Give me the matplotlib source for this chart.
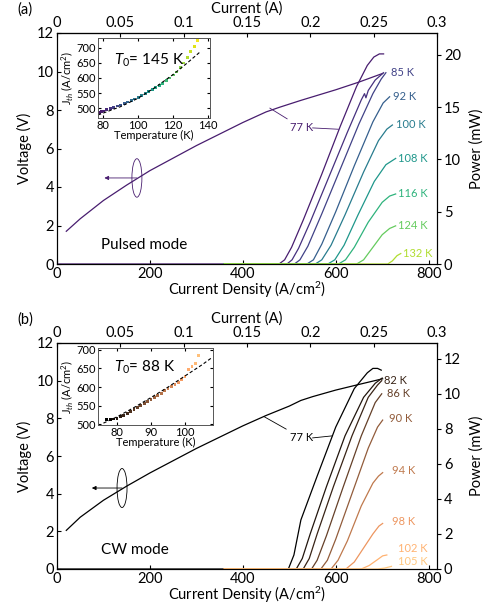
import numpy as np
import matplotlib.pyplot as plt
from matplotlib.patches import Ellipse

plt.rcParams['font.family'] = ['Lato', 'DejaVu Sans']
plt.rcParams['mathtext.fontset'] = 'custom'
plt.rcParams['mathtext.rm'] = 'Lato'
plt.rcParams['mathtext.it'] = 'Lato:italic'

J_MAX = 818          # A/cm^2 at the right edge
I_MAX = 0.3          # A at the right edge

# ---------------- (a) pulsed ----------------
pulsed_vj = [20, 50, 100, 150, 200, 250, 300, 350, 400, 450, 480, 525, 600, 650, 701]
pulsed_v = [1.7, 2.35, 3.3, 4.1, 4.85, 5.5, 6.15, 6.75, 7.35, 7.9, 8.15, 8.5, 9.05, 9.45, 9.9]

pulsed_temps = [77, 81, 85, 92, 100, 108, 116, 124, 132]
pulsed_labels = ['', '', '85 K', '92 K', '100 K', '108 K', '116 K', '124 K', '132 K']
pulsed_j = [
    [0, 478, 490, 505, 530, 570, 610, 645, 668, 682, 694, 703],
    [360, 495, 506, 520, 545, 585, 625, 655, 662, 665, 670, 685, 703],
    [360, 511, 523, 540, 570, 610, 650, 680, 698, 708],
    [360, 538, 552, 570, 600, 640, 680, 702, 716],
    [360, 556, 570, 590, 620, 660, 692, 710, 722],
    [360, 583, 598, 618, 648, 683, 708, 729],
    [360, 606, 621, 640, 670, 700, 716, 729],
    [360, 645, 660, 680, 700, 716, 729],
    [360, 712, 722, 732, 740],
]
pulsed_p = [
    [0, 0, 0.4, 1.6, 4.2, 8.6, 13.2, 17.0, 19.0, 19.8, 20.1, 20.1],
    [0, 0, 0.4, 1.5, 4.0, 8.3, 12.6, 15.7, 16.3, 15.9, 16.6, 17.6, 18.3],
    [0, 0, 0.4, 1.7, 4.8, 9.1, 13.4, 16.3, 17.7, 18.3],
    [0, 0, 0.4, 1.9, 5.0, 9.4, 13.6, 15.4, 16.0],
    [0, 0, 0.4, 1.8, 4.7, 8.8, 11.8, 12.9, 13.3],
    [0, 0, 0.4, 1.8, 4.7, 7.9, 9.5, 10.1],
    [0, 0, 0.4, 1.6, 4.0, 5.9, 6.5, 6.7],
    [0, 0, 0.4, 1.6, 2.8, 3.4, 3.65],
    [0, 0, 0.3, 0.8, 1.0],
]
pulsed_label_j = [0, 0, 718, 723, 729, 733, 733, 733, 744]
pulsed_label_p = [0, 0, 18.3, 16.0, 13.3, 10.1, 6.7, 3.65, 1.0]

pulsed_inset_t = [77, 78, 79, 80, 82, 84, 86, 88, 90, 92, 94, 96, 98, 100, 102, 104,
                  106, 108, 110, 112, 114, 116, 118, 120, 122, 124, 126, 128, 130, 132, 134, 135]
pulsed_inset_j = [482, 486, 488, 490, 494, 498, 503, 507, 510, 515, 520, 525, 530, 536, 542, 548,
                  555, 561, 568, 576, 583, 592, 600, 610, 620, 634, 650, 668, 688, 706, 724, 735]
pulsed_fit_t = [77, 90, 100, 110, 120, 128, 135]
pulsed_fit_j = [477, 505, 533, 570, 612, 650, 685]

# ---------------- (b) CW ----------------
cw_vj = [20, 50, 100, 150, 200, 250, 300, 350, 400, 450, 500, 525, 550, 600, 650, 701]
cw_v = [2.05, 2.75, 3.65, 4.4, 5.1, 5.75, 6.4, 7.0, 7.6, 8.15, 8.65, 8.95, 9.15, 9.5, 9.8, 10.1]

cw_temps = [77, 80, 82, 86, 90, 94, 98, 102, 105]
cw_labels = ['', '', '82 K', '86 K', '90 K', '94 K', '98 K', '102 K', '105 K']
cw_j = [
    [0, 498, 510, 525, 560, 600, 640, 668, 680, 690, 698],
    [360, 515, 528, 545, 580, 620, 660, 685, 700],
    [360, 530, 543, 560, 595, 635, 670, 690, 699],
    [360, 548, 560, 580, 615, 655, 685, 699],
    [360, 568, 582, 600, 635, 670, 690, 701],
    [360, 590, 605, 625, 655, 680, 692, 701],
    [360, 622, 640, 660, 680, 693, 701],
    [360, 655, 672, 688, 701, 710],
    [360, 690, 705, 720],
]
cw_p = [
    [0, 0, 0.8, 2.8, 5.3, 8.1, 10.3, 11.2, 11.45, 11.45, 11.35],
    [0, 0, 0.6, 2.0, 4.7, 7.6, 9.8, 10.6, 10.9],
    [0, 0, 0.6, 2.0, 4.7, 7.6, 9.8, 10.5, 10.75],
    [0, 0, 0.5, 1.9, 4.6, 7.6, 9.5, 10.0],
    [0, 0, 0.5, 1.7, 4.3, 6.9, 8.1, 8.5],
    [0, 0, 0.5, 1.6, 3.6, 4.9, 5.3, 5.5],
    [0, 0, 0.4, 1.2, 2.0, 2.45, 2.6],
    [0, 0, 0.2, 0.5, 0.75, 0.8],
    [0, 0, 0.05, 0.15],
]
cw_label_j = [0, 0, 704, 710, 714, 722, 722, 733, 733]
cw_label_p = [0, 0, 10.75, 10.0, 8.6, 5.6, 2.7, 1.15, 0.4]

cw_inset_t = [77, 78, 79, 80, 81, 82, 83, 84, 85, 86, 87, 88, 89, 90, 91, 92, 93, 94,
              95, 96, 97, 98, 99, 100, 101, 102, 103, 104, 105]
cw_inset_j = [512, 513, 514, 516, 520, 524, 528, 535, 540, 545, 550, 556, 562, 566, 572, 577, 582, 590,
              596, 602, 606, 612, 620, 628, 648, 655, 664, 685, 705]
cw_fit_t = [76, 80, 85, 90, 95, 100, 105, 108]
cw_fit_j = [503, 520, 545, 572, 600, 630, 660, 680]


fig = plt.figure(figsize=(4.85, 6.07), dpi=100)
W, H = 485, 607


def px_axes(left, top, right, bottom):
    return fig.add_axes([left / W, 1 - bottom / H, (right - left) / W, (bottom - top) / H])


def main_panel(ax, p_max, p_ticks, panel, mode):
    ax.set_xlim(0, J_MAX)
    ax.set_ylim(0, 12)
    ax.set_xticks([0, 200, 400, 600, 800])
    ax.set_yticks(range(0, 13, 2))
    ax.tick_params(direction='in', length=3, labelsize=10.5, pad=2)
    ax.set_xlabel('Current Density (A/cm$^2$)', fontsize=10.5, labelpad=-0.5)
    ax.set_ylabel('Voltage (V)', fontsize=10.5, labelpad=4)
    sec = ax.secondary_xaxis('top', functions=(lambda j: j * I_MAX / J_MAX,
                                               lambda i: i * J_MAX / I_MAX))
    sec.set_xticks([0, 0.05, 0.1, 0.15, 0.2, 0.25, 0.3])
    sec.set_xticklabels(['0', '0.05', '0.1', '0.15', '0.2', '0.25', '0.3'])
    sec.tick_params(direction='in', length=3, labelsize=10.5, pad=2)
    sec.set_xlabel('Current (A)', fontsize=10.5, labelpad=2.5)
    ax2 = ax.twinx()
    ax2.set_ylim(0, p_max)
    ax2.set_yticks(p_ticks)
    ax2.tick_params(direction='out', length=3, labelsize=10.5, pad=2)
    ax2.set_ylabel('Power (mW)', fontsize=10.5, labelpad=6)
    ax.text(-0.105, 1.085, panel, transform=ax.transAxes, fontsize=10.5)
    ax.text(95, 1.0, mode, fontsize=11, va='center')
    return ax2


def inset(rect, xlim, ylim, xticks):
    ins = px_axes(*rect)
    ins.set_xlim(*xlim)
    ins.set_ylim(*ylim)
    ins.set_xticks(xticks)
    ins.set_yticks([500, 550, 600, 650, 700])
    ins.tick_params(direction='in', length=2, labelsize=8, pad=1.5, top=True, right=True)
    ins.set_xlabel('Temperature (K)', fontsize=8, labelpad=-0.5)
    ins.set_ylabel(r'J$_{th}$ (A/cm$^2$)', fontsize=8, labelpad=1)
    for s in ins.spines.values():
        s.set_linewidth(0.7)
        s.set_color('#555555')
    return ins


# ----- panel (a) -----
ax_a = px_axes(57, 33, 437, 264)
ax_a2 = main_panel(ax_a, 22.1, [0, 5, 10, 15, 20], '(a)', 'Pulsed mode')
vir = plt.get_cmap('viridis')
pulsed_colors = [vir(0.08 + 0.80 * (t - 77) / (132 - 77)) for t in pulsed_temps]
ax_a.plot(pulsed_vj, pulsed_v, color=pulsed_colors[0], lw=0.9)
for j, p, c, lab, lj, lp in zip(pulsed_j, pulsed_p, pulsed_colors, pulsed_labels,
                                pulsed_label_j, pulsed_label_p):
    ax_a2.plot(j, p, color=c, lw=0.9)
    if lab:
        ax_a2.text(lj, lp, lab, color=c, fontsize=8, va='center', ha='left')
ax_a.add_patch(Ellipse((172, 4.47), 21.5, 2.0, fill=False, lw=0.6, color=pulsed_colors[0]))
ax_a.annotate('', xy=(102, 4.47), xytext=(172, 4.47),
              arrowprops=dict(arrowstyle='-|>', lw=0.6, color=pulsed_colors[0],
                              mutation_scale=6, shrinkA=0, shrinkB=0))
ax_a.annotate('77 K', xy=(458, 8.1), xytext=(527, 7.07), fontsize=8, color=pulsed_colors[0],
              ha='center', va='center',
              arrowprops=dict(arrowstyle='-', lw=0.6, color=pulsed_colors[0], shrinkA=1, shrinkB=0))
ax_a.annotate('', xy=(606, 7.0), xytext=(550, 7.07),
              arrowprops=dict(arrowstyle='-', lw=0.6, color=pulsed_colors[0], shrinkA=0, shrinkB=0))

ins_a = inset((98, 38, 210, 118), (77, 141), (467, 733), [80, 100, 120, 140])
ins_a.scatter(pulsed_inset_t, pulsed_inset_j, c=pulsed_inset_t, cmap='viridis',
              vmin=75, vmax=135, s=4, marker='s', lw=0)
ins_a.plot(pulsed_fit_t, pulsed_fit_j, 'k--', lw=0.8, dashes=(3, 2))
ins_a.text(0.14, 0.72, r'$T_0$= 145 K', transform=ins_a.transAxes, fontsize=11, va='center')

# ----- panel (b) -----
ax_b = px_axes(57, 343, 437, 569)
ax_b2 = main_panel(ax_b, 12.9, [0, 2, 4, 6, 8, 10, 12], '(b)', 'CW mode')
cop = plt.get_cmap('copper')
cw_colors = [cop((t - 77) / (105 - 77)) for t in cw_temps]
ax_b.plot(cw_vj, cw_v, color='black', lw=0.9)
for j, p, c, lab, lj, lp in zip(cw_j, cw_p, cw_colors, cw_labels, cw_label_j, cw_label_p):
    ax_b2.plot(j, p, color=c, lw=0.9)
    if lab:
        ax_b2.text(lj, lp, lab, color=c, fontsize=8, va='center', ha='left')
ax_b.add_patch(Ellipse((140, 4.3), 21.5, 2.07, fill=False, lw=0.6, color='black'))
ax_b.annotate('', xy=(75, 4.3), xytext=(140, 4.3),
              arrowprops=dict(arrowstyle='-|>', lw=0.6, color='black',
                              mutation_scale=6, shrinkA=0, shrinkB=0))
ax_b.annotate('77 K', xy=(445, 8.1), xytext=(527, 6.96), fontsize=8, color='black',
              ha='center', va='center',
              arrowprops=dict(arrowstyle='-', lw=0.6, color='black', shrinkA=1, shrinkB=0))
ax_b.annotate('', xy=(593, 7.07), xytext=(550, 6.96),
              arrowprops=dict(arrowstyle='-', lw=0.6, color='black', shrinkA=0, shrinkB=0))

ins_b = inset((98, 348, 213, 425), (74.4, 108.2), (498, 705), [80, 90, 100])
ins_b.scatter(cw_inset_t, cw_inset_j, c=cw_inset_t, cmap='copper',
              vmin=77, vmax=105, s=4, marker='s', lw=0)
ins_b.plot(cw_fit_t, cw_fit_j, 'k--', lw=0.8, dashes=(3, 2))
ins_b.text(0.14, 0.75, r'$T_0$= 88 K', transform=ins_b.transAxes, fontsize=11, va='center')

fig.savefig('out.png', dpi=100)
